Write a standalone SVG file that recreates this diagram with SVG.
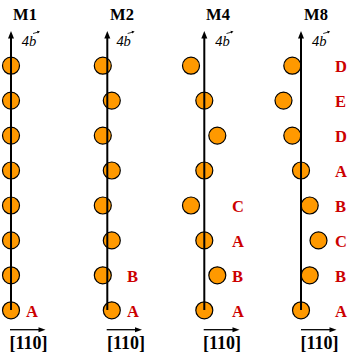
<svg xmlns="http://www.w3.org/2000/svg" width="354" height="357" viewBox="0 0 354 357">
<style>
.atom{fill:#ff9900;stroke:#000;stroke-width:1.2}
.title{font-family:"Liberation Serif",serif;font-weight:bold;font-size:16.5px;text-anchor:middle;fill:#000}
.vec{font-family:"Liberation Serif",serif;font-style:italic;font-size:14.5px;fill:#000}
.dir{font-family:"Liberation Serif",serif;font-weight:bold;font-size:18px;text-anchor:middle;fill:#000}
.lab{font-family:"Liberation Serif",serif;font-weight:bold;font-size:16.5px;fill:#cc0000}
.axis{stroke:#000;stroke-width:2;fill:none}
.harrow{stroke:#000;stroke-width:1.3;fill:none}
.small{stroke:#000;stroke-width:0.8;fill:none}
</style>
<rect width="354" height="357" fill="#fff"/>
<g id="M1">
<text class="title" x="25" y="20">M1</text>
<circle class="atom" cx="11" cy="65.7" r="8.5"/>
<circle class="atom" cx="11" cy="100.6" r="8.5"/>
<circle class="atom" cx="11" cy="135.6" r="8.5"/>
<circle class="atom" cx="11" cy="170.5" r="8.5"/>
<circle class="atom" cx="11" cy="205.5" r="8.5"/>
<circle class="atom" cx="11" cy="240.4" r="8.5"/>
<circle class="atom" cx="11" cy="275.3" r="8.5"/>
<circle class="atom" cx="11" cy="310.3" r="8.5"/>
<text class="lab" x="26" y="316.5">A</text>
</g>
<g id="M2">
<text class="title" x="122" y="20">M2</text>
<circle class="atom" cx="102.8" cy="65.7" r="8.5"/>
<circle class="atom" cx="111.8" cy="100.6" r="8.5"/>
<circle class="atom" cx="102.8" cy="135.6" r="8.5"/>
<circle class="atom" cx="111.8" cy="170.5" r="8.5"/>
<circle class="atom" cx="102.8" cy="205.5" r="8.5"/>
<circle class="atom" cx="111.8" cy="240.4" r="8.5"/>
<circle class="atom" cx="102.8" cy="275.3" r="8.5"/>
<circle class="atom" cx="111.8" cy="310.3" r="8.5"/>
<text class="lab" x="127" y="281.5">B</text>
<text class="lab" x="127" y="316.5">A</text>
</g>
<g id="M4">
<text class="title" x="218" y="20">M4</text>
<circle class="atom" cx="191" cy="65.7" r="8.5"/>
<circle class="atom" cx="204.3" cy="100.6" r="8.5"/>
<circle class="atom" cx="217.3" cy="135.6" r="8.5"/>
<circle class="atom" cx="204.3" cy="170.5" r="8.5"/>
<circle class="atom" cx="191" cy="205.5" r="8.5"/>
<circle class="atom" cx="204.3" cy="240.4" r="8.5"/>
<circle class="atom" cx="217.3" cy="275.3" r="8.5"/>
<circle class="atom" cx="204.3" cy="310.3" r="8.5"/>
<text class="lab" x="232" y="211.7">C</text>
<text class="lab" x="232" y="246.6">A</text>
<text class="lab" x="232" y="281.5">B</text>
<text class="lab" x="232" y="316.5">A</text>
</g>
<g id="M8">
<text class="title" x="316" y="20">M8</text>
<circle class="atom" cx="292.3" cy="65.7" r="8.5"/>
<circle class="atom" cx="283.5" cy="100.6" r="8.5"/>
<circle class="atom" cx="292.3" cy="135.6" r="8.5"/>
<circle class="atom" cx="301" cy="170.5" r="8.5"/>
<circle class="atom" cx="309.7" cy="205.5" r="8.5"/>
<circle class="atom" cx="318.5" cy="240.4" r="8.5"/>
<circle class="atom" cx="309.7" cy="275.3" r="8.5"/>
<circle class="atom" cx="301" cy="310.3" r="8.5"/>
<text class="lab" x="335" y="71.9">D</text>
<text class="lab" x="335" y="106.8">E</text>
<text class="lab" x="335" y="141.8">D</text>
<text class="lab" x="335" y="176.7">A</text>
<text class="lab" x="335" y="211.7">B</text>
<text class="lab" x="335" y="246.6">C</text>
<text class="lab" x="335" y="281.5">B</text>
<text class="lab" x="335" y="316.5">A</text>
</g>
<g id="connectors">
<g id="axes">
<line class="axis" x1="11" y1="37" x2="11" y2="310"/>
<polygon points="11,31 8,38.5 14,38.5" fill="#000"/>
<line class="axis" x1="107.3" y1="37" x2="107.3" y2="310"/>
<polygon points="107.3,31 104.3,38.5 110.3,38.5" fill="#000"/>
<line class="axis" x1="204.3" y1="37" x2="204.3" y2="310"/>
<polygon points="204.3,31 201.3,38.5 207.3,38.5" fill="#000"/>
<line class="axis" x1="301" y1="37" x2="301" y2="310"/>
<polygon points="301,31 298,38.5 304,38.5" fill="#000"/>
</g>
<g id="dir110">
<line class="harrow" x1="10" y1="329.7" x2="40" y2="329.7"/>
<polygon points="45.5,329.7 38.5,327.2 38.5,332.2" fill="#000"/>
<line class="harrow" x1="106.7" y1="329.7" x2="136.5" y2="329.7"/>
<polygon points="142,329.7 135,327.2 135,332.2" fill="#000"/>
<line class="harrow" x1="203.7" y1="329.7" x2="234" y2="329.7"/>
<polygon points="239.5,329.7 232.5,327.2 232.5,332.2" fill="#000"/>
<line class="harrow" x1="301" y1="329.7" x2="331" y2="329.7"/>
<polygon points="336.5,329.7 329.5,327.2 329.5,332.2" fill="#000"/>
</g>
</g>
<g id="labels">
<text class="vec" x="21.7" y="45.5">4<tspan x="29">b</tspan></text>
<line class="small" x1="33" y1="33.5" x2="38.5" y2="32"/><polygon points="40,31.6 37,30.8 37.8,33.5" fill="#000"/>
<text class="vec" x="116.5" y="45.5">4<tspan x="123.6">b</tspan></text>
<line class="small" x1="127.6" y1="33.5" x2="133.1" y2="32"/><polygon points="134.6,31.6 131.6,30.8 132.4,33.5" fill="#000"/>
<text class="vec" x="215.3" y="45.5">4<tspan x="222.5">b</tspan></text>
<line class="small" x1="226.5" y1="33.5" x2="232" y2="32"/><polygon points="233.5,31.6 230.5,30.8 231.3,33.5" fill="#000"/>
<text class="vec" x="312" y="45.5">4<tspan x="319.2">b</tspan></text>
<line class="small" x1="323.2" y1="33.5" x2="328.7" y2="32"/><polygon points="330.2,31.6 327.2,30.8 328,33.5" fill="#000"/>
<text class="dir" x="28.5" y="348.5">[110]</text>
<text class="dir" x="126" y="348.5">[110]</text>
<text class="dir" x="222" y="348.5">[110]</text>
<text class="dir" x="319.5" y="348.5">[110]</text>
</g>
</svg>
